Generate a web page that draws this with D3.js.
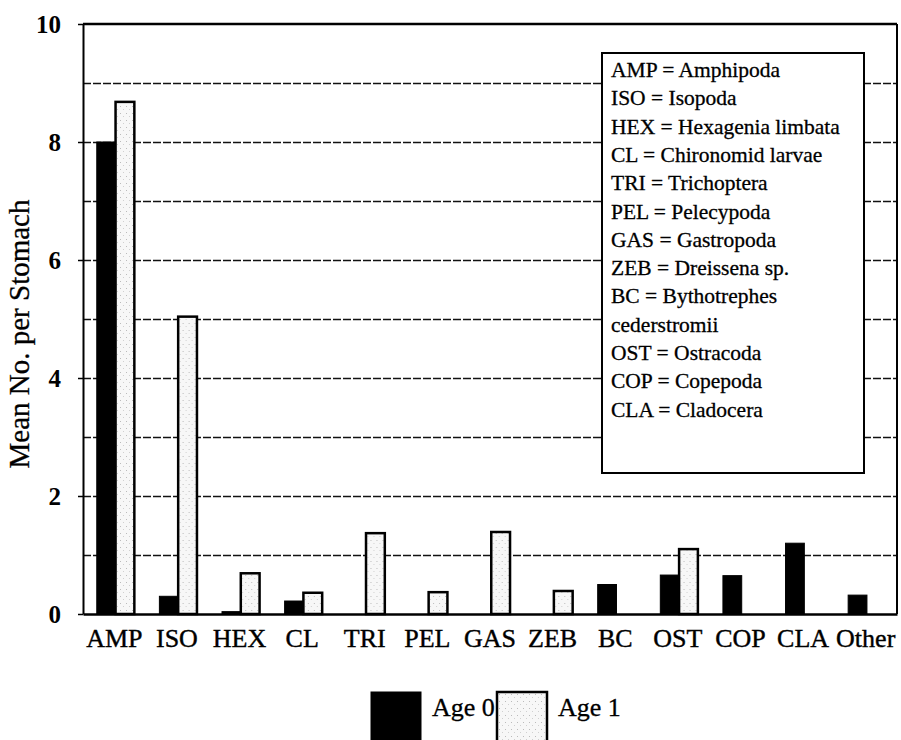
<!DOCTYPE html>
<html>
<head>
<meta charset="utf-8">
<script src="https://cdn.jsdelivr.net/npm/d3@7"></script>
<style>
  html, body { margin: 0; padding: 0; background: #fff; }
  svg { display: block; font-family: "Liberation Serif", "Times New Roman", serif; }
</style>
</head>
<body>
<svg id="chart" width="901" height="740"></svg>
<script>
// ---- data ----
const categories = ["AMP","ISO","HEX","CL","TRI","PEL","GAS","ZEB","BC","OST","COP","CLA","Other"];
const age0 = [8.0, 0.30, 0.04, 0.22, 0, 0, 0, 0, 0.50, 0.66, 0.65, 1.20, 0.32];
const age1 = [8.68, 5.04, 0.69, 0.36, 1.37, 0.37, 1.39, 0.39, 0, 1.10, 0, 0, 0];
const seriesNames = ["Age 0", "Age 1"];
const yTicks = [0, 2, 4, 6, 8, 10];
const gridValues = [1, 2, 3, 4, 5, 6, 7, 8, 9];
const yTitle = "Mean No. per Stomach";
const keyLines = [
  "AMP = Amphipoda",
  "ISO = Isopoda",
  "HEX = Hexagenia limbata",
  "CL = Chironomid larvae",
  "TRI = Trichoptera",
  "PEL = Pelecypoda",
  "GAS = Gastropoda",
  "ZEB = Dreissena sp.",
  "BC = Bythotrephes",
  "cederstromii",
  "OST = Ostracoda",
  "COP = Copepoda",
  "CLA = Cladocera"
];

(function () {
// ---- layout ----
const svg = d3.select("#chart");
const pl = 83, pr = 897, pt = 24, pb = 614;

const x = d3.scaleBand().domain(categories).range([pl, pr]).padding(0);
const x1 = d3.scaleBand().domain(seriesNames)
  .range([x.bandwidth() * 0.22, x.bandwidth() * 0.82]).padding(0);
const y = d3.scaleLinear().domain([0, 10]).range([pb, pt]);

// stipple pattern for Age 1
const defs = svg.append("defs");
const pat = defs.append("pattern").attr("id", "stip")
  .attr("patternUnits", "userSpaceOnUse").attr("width", 6).attr("height", 7);
pat.append("rect").attr("width", 6).attr("height", 7).attr("fill", "#f7f7f7");
pat.append("rect").attr("x", 1).attr("y", 1).attr("width", 1).attr("height", 1).attr("fill", "#bbb");
pat.append("rect").attr("x", 4).attr("y", 4).attr("width", 1).attr("height", 1).attr("fill", "#d0d0d0");

// grid lines
svg.append("g").selectAll("line").data(gridValues).join("line")
  .attr("x1", pl).attr("x2", pr)
  .attr("y1", d => Math.round(y(d)) + 0.5).attr("y2", d => Math.round(y(d)) + 0.5)
  .attr("stroke", "#111").attr("stroke-width", 1.3)
  .attr("stroke-dasharray", "8,2");

// top border and right border
svg.append("line").attr("x1", pl).attr("x2", pr).attr("y1", y(10)).attr("y2", y(10))
  .attr("stroke", "#000").attr("stroke-width", 2.5);
svg.append("line").attr("x1", pr).attr("x2", pr).attr("y1", y(10)).attr("y2", y(0))
  .attr("stroke", "#000").attr("stroke-width", 2);

// key box
const kx = 602, ky = 53, kw = 262, kh = 420;
svg.append("rect").attr("x", kx).attr("y", ky).attr("width", kw).attr("height", kh)
  .attr("fill", "#fff").attr("stroke", "#000").attr("stroke-width", 2);
svg.append("g").selectAll("text").data(keyLines).join("text")
  .attr("x", kx + 9).attr("y", (d, i) => ky + 24 + i * 28.3)
  .attr("font-size", 21.5).attr("fill", "#000")
  .attr("stroke", "#000").attr("stroke-width", 0.3).text(d => d);

// bars
const rows = categories.map((c, i) => ({ c, vals: [age0[i], age1[i]] }));
const g = svg.append("g").selectAll("g").data(rows).join("g")
  .attr("transform", d => `translate(${x(d.c)},0)`);
g.selectAll("rect").data(d => d.vals.map((v, k) => ({ s: seriesNames[k], v, k })))
  .join("rect")
  .filter(d => d.v > 0)
  .attr("x", d => x1(d.s))
  .attr("y", d => y(d.v))
  .attr("width", x1.bandwidth())
  .attr("height", d => y(0) - y(d.v))
  .attr("fill", d => d.k === 0 ? "#000" : "url(#stip)")
  .attr("stroke", "#000")
  .attr("stroke-width", d => d.k === 0 ? 1 : 2.5);

// y axis
const yAxis = svg.append("g").attr("transform", `translate(${pl},0)`)
  .call(d3.axisLeft(y).tickValues(yTicks).tickSize(5).tickSizeOuter(0).tickPadding(17));
yAxis.select(".domain").attr("stroke", "#000").attr("stroke-width", 2);
yAxis.selectAll(".tick line").attr("stroke", "#000").attr("stroke-width", 1.5);
yAxis.selectAll(".tick text").attr("font-size", 25).attr("font-weight", "bold")
  .attr("font-family", "Liberation Serif").attr("fill", "#000");

// x axis
const xAxis = svg.append("g").attr("transform", `translate(0,${pb})`)
  .call(d3.axisBottom(x).tickSize(0).tickPadding(15));
xAxis.select(".domain").attr("stroke", "#000").attr("stroke-width", 2.5);
xAxis.selectAll(".tick text").attr("font-size", 26)
  .attr("font-family", "Liberation Serif").attr("fill", "#000")
  .attr("stroke", "#000").attr("stroke-width", 0.4).attr("dy", "0.71em");

// y title
svg.append("text")
  .attr("transform", `translate(29,${(190 + 478) / 2}) rotate(-90)`)
  .attr("text-anchor", "middle").attr("font-size", 29).attr("fill", "#000")
  .attr("stroke", "#000").attr("stroke-width", 0.3)
  .text(yTitle);

// bottom legend
const lg = svg.append("g");
const legX = [371, 497];
seriesNames.forEach((s, k) => {
  lg.append("rect").attr("x", legX[k]).attr("y", 692).attr("width", 50).attr("height", 52)
    .attr("fill", k === 0 ? "#000" : "url(#stip)")
    .attr("stroke", "#000").attr("stroke-width", k === 0 ? 1 : 2.5);
  lg.append("text").attr("x", legX[k] + 61).attr("y", 716)
    .attr("font-size", 26).attr("fill", "#000")
    .attr("stroke", "#000").attr("stroke-width", 0.3).text(s);
});
})();
</script>
</body>
</html>
